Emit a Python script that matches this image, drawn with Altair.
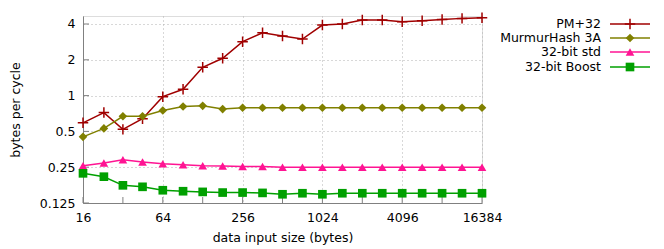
import altair as alt
import pandas as pd

sizes = [16, 23, 32, 45, 64, 91, 128, 181, 256, 362, 512, 724, 1024, 1448,
         2048, 2896, 4096, 5793, 8192, 11585, 16384]
series_names = ["PM+32", "MurmurHash 3A", "32-bit std", "32-bit Boost"]
pm32 = [0.59, 0.72, 0.52, 0.64, 0.98, 1.13, 1.73, 2.06, 2.84, 3.38, 3.17,
        2.99, 3.92, 4.0, 4.32, 4.32, 4.18, 4.26, 4.37, 4.46, 4.51]
murmur = [0.45, 0.53, 0.67, 0.67, 0.75, 0.81, 0.82, 0.77, 0.79, 0.79, 0.79,
          0.79, 0.79, 0.79, 0.79, 0.79, 0.79, 0.79, 0.79, 0.79, 0.79]
std32 = [0.257, 0.271, 0.289, 0.276, 0.267, 0.262, 0.257, 0.256, 0.254, 0.253,
         0.25, 0.25, 0.25, 0.25, 0.25, 0.25, 0.25, 0.25, 0.25, 0.25, 0.25]
boost = [0.222, 0.208, 0.176, 0.171, 0.160, 0.157, 0.155, 0.153, 0.153, 0.152,
         0.148, 0.151, 0.148, 0.151, 0.151, 0.151, 0.151, 0.151, 0.151, 0.151, 0.151]
colors = ["#a00000", "#808000", "#ff1493", "#00a000"]
shapes = ["M-1,0H1M0,-1V1", "diamond", "triangle-up", "square"]
x_labels = [16, 64, 256, 1024, 4096, 16384]
x_ticks = [16, 32, 64, 128, 256, 512, 1024, 2048, 4096, 8192, 16384]
y_ticks = [0.125, 0.25, 0.5, 1, 2, 4]

FONT = "DejaVu Sans"
FS = 12.5
W, H = 399, 187

rows = []
for name, vals in zip(series_names, [pm32, murmur, std32, boost]):
    for s, v in zip(sizes, vals):
        rows.append({"size": s, "bpc": v, "series": name})
df = pd.DataFrame(rows)

xscale = alt.Scale(type="log", base=2, domain=[16, 16384], nice=False)
yscale = alt.Scale(type="log", base=2, domain=[0.125, 4.67], nice=False)
color = alt.Color("series:N", scale=alt.Scale(domain=series_names, range=colors), legend=None)
shape = alt.Shape("series:N", scale=alt.Scale(domain=series_names, range=shapes), legend=None)

xaxis = alt.Axis(values=x_labels, format="d", ticks=False, grid=True,
                 gridDash=[1, 3], gridColor="#b0b0b0", domainColor="#808080",
                 labelFont=FONT, labelFontSize=FS, labelColor="#000000",
                 labelPadding=8, title="data input size (bytes)",
                 titleFont=FONT, titleFontSize=FS, titleFontWeight="normal",
                 titleColor="#000000", titlePadding=8, labelFlush=False)
yaxis = alt.Axis(values=y_ticks, ticks=False, grid=True, gridDash=[1, 3],
                 gridColor="#b0b0b0", domainColor="#808080",
                 labelFont=FONT, labelFontSize=FS, labelColor="#000000",
                 labelPadding=8, labelExpr="datum.value == 0.125 ? '0.125' : format(datum.value, '~g')",
                 title="bytes per cycle", titleFont=FONT, titleFontSize=FS,
                 titleFontWeight="normal", titleColor="#000000", titlePadding=17)

base = alt.Chart(df)
lines = base.mark_line(strokeWidth=1.5).encode(
    x=alt.X("size:Q", scale=xscale, axis=xaxis),
    y=alt.Y("bpc:Q", scale=yscale, axis=yaxis),
    color=color, detail="series:N")

plus_pts = base.transform_filter(alt.datum.series == "PM+32").mark_point(
    filled=False, size=110, strokeWidth=1.5, opacity=1).encode(
    x=alt.X("size:Q", scale=xscale), y=alt.Y("bpc:Q", scale=yscale),
    color=color, shape=shape)
fill_pts = base.transform_filter(alt.datum.series != "PM+32").mark_point(
    filled=True, size=75, opacity=1).encode(
    x=alt.X("size:Q", scale=xscale), y=alt.Y("bpc:Q", scale=yscale),
    color=color, shape=shape)

xt = alt.Chart(pd.DataFrame({"v": x_ticks})).mark_rule(color="#808080").encode(
    x=alt.X("v:Q", scale=xscale), y=alt.value(H), y2=alt.value(H - 6))
yt = alt.Chart(pd.DataFrame({"v": y_ticks})).mark_rule(color="#808080").encode(
    y=alt.Y("v:Q", scale=yscale), x=alt.value(0), x2=alt.value(6))

layers = [xt, yt, lines, plus_pts, fill_pts]
leg_y = [8, 22, 36, 51]
for i, name in enumerate(series_names):
    one = pd.DataFrame({"series": [name]})
    c = alt.Chart(one)
    layers.append(c.mark_text(align="right", baseline="middle", font=FONT,
                              fontSize=FS, color="#000000").encode(
        text="series:N", x=alt.value(518), y=alt.value(leg_y[i])))
    layers.append(c.mark_rule(strokeWidth=1.5, color=colors[i]).encode(
        x=alt.value(527), x2=alt.value(567), y=alt.value(leg_y[i])))
    if i == 0:
        layers.append(c.mark_point(filled=False, size=110, strokeWidth=1.5,
                                   opacity=1, shape=shapes[i], color=colors[i]).encode(
            x=alt.value(547), y=alt.value(leg_y[i])))
    else:
        layers.append(c.mark_point(filled=True, size=75, opacity=1,
                                   shape=shapes[i], color=colors[i]).encode(
            x=alt.value(547), y=alt.value(leg_y[i])))

chart = alt.layer(*layers).properties(
    width=W, height=H,
    autosize=alt.AutoSizeParams(type="none"),
    padding={"left": 75, "top": 8, "right": 170, "bottom": 42},
).configure_view(stroke=None).configure(background="white")

chart.save("out.html", embed_options={"renderer": "svg", "actions": False})
